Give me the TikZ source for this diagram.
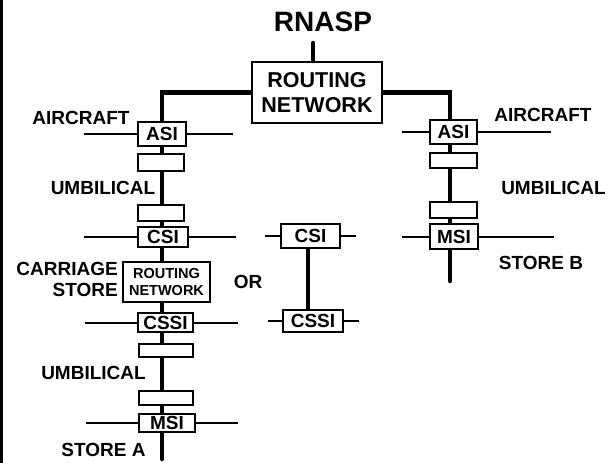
\documentclass[tikz,border=0pt]{standalone}
\usepackage{fontspec}
\setmainfont{Liberation Sans}
\usepackage{tikz}
\usetikzlibrary{calc}

\tikzset{
  bus/.style={line width=4.5pt},
  wire/.style={line width=2pt},
  unit/.style={draw, line width=2pt, fill=white, inner sep=0pt,
    font=\fontsize{19}{21}\selectfont\bfseries},
  tag/.style={inner sep=0pt, font=\fontsize{19}{21}\selectfont\bfseries}
}

\begin{document}
\begin{tikzpicture}[x=1pt,y=-1pt]
    \useasboundingbox (0,0) rectangle (614,463);
    \draw [line width=3pt] (1.5,0) -- (1.5,463);% Frame on the left edge

    \coordinate (StubTop) at (313,43);
    \coordinate (TrunkA)  at (162,459);% Store A side
    \coordinate (TrunkB)  at (450,281);% Store B side
    \coordinate (TrunkM)  at (308,0);

    \node [tag, font=\fontsize{28}{30}\selectfont\bfseries] (title) at (323,22) {RNASP};
    \node [unit, minimum width=130pt, minimum height=61pt, align=center,
      font=\fontsize{21.5}{25}\selectfont\bfseries] (RN) at (317,92.5) {ROUTING\\NETWORK};

    % left column
    \node [unit, minimum width=48pt, minimum height=24pt] (asiL)  at (162,134)   {ASI};
    \node [unit, minimum width=46pt, minimum height=17pt] (umbA)  at (161,162.5) {};
    \node [unit, minimum width=46pt, minimum height=16pt] (umbB)  at (161,213)   {};
    \node [unit, minimum width=50pt, minimum height=20pt] (csiL)  at (163,237)   {CSI};
    \node [unit, minimum width=87pt, minimum height=40pt, align=center,
      font=\fontsize{14.5}{17}\selectfont\bfseries] (rnC) at (166.5,282) {ROUTING\\NETWORK};
    \node [unit, minimum width=55pt, minimum height=19pt] (cssiL) at (165.5,322.5) {CSSI};
    \node [unit, minimum width=54pt, minimum height=13pt] (umbE)  at (166,350.5) {};
    \node [unit, minimum width=54pt, minimum height=14pt] (umbF)  at (166,398)   {};
    \node [unit, minimum width=56pt, minimum height=18pt] (msiL)  at (167,423)   {MSI};

    % middle column
    \node [unit, minimum width=59pt, minimum height=24pt] (csiM)  at (310.5,236) {CSI};
    \node [unit, minimum width=60pt, minimum height=22pt] (cssiM) at (313,321)   {CSSI};

    % right column
    \node [unit, minimum width=47pt, minimum height=24pt] (asiR)  at (453.5,132)   {ASI};
    \node [unit, minimum width=47pt, minimum height=15pt] (umbC)  at (453.5,160.5) {};
    \node [unit, minimum width=47pt, minimum height=16pt] (umbD)  at (453.5,210)   {};
    \node [unit, minimum width=48pt, minimum height=25pt] (msiR)  at (454,236.5)   {MSI};

    \node [tag] (airA)  at (81,118)    {AIRCRAFT};
    \node [tag] (umbTA) at (103,188)   {UMBILICAL};
    \node [tag, anchor=east, align=right, font=\fontsize{19}{21}\selectfont\bfseries]
      (carr) at (118,279) {CARRIAGE\\STORE};
    \node [tag] (or)    at (248,282)   {OR};
    \node [tag] (umbTB) at (93.5,373)  {UMBILICAL};
    \node [tag] (stA)   at (103.5,450) {STORE A};
    \node [tag] (airB)  at (543,115)   {AIRCRAFT};
    \node [tag] (umbTC) at (553.5,188) {UMBILICAL};
    \node [tag] (stB)   at (541,263)   {STORE B};

    % thick buses
    \draw [bus, line cap=round] (StubTop) -- (StubTop |- RN.north);
    \draw [bus] (RN.west) -| (asiL.north -| TrunkA);
    \draw [bus] (RN.east) -| (asiR.north -| TrunkB);
    \foreach \a/\b in {asiL/umbA, umbA/umbB, umbB/csiL, csiL/rnC, rnC/cssiL, cssiL/umbE, umbE/umbF, umbF/msiL}
      \draw [bus] (\a.south -| TrunkA) -- (\b.north -| TrunkA);
    \draw [bus, line cap=round] (msiL.south -| TrunkA) -- (TrunkA);
    \foreach \a/\b in {asiR/umbC, umbC/umbD, umbD/msiR}
      \draw [bus] (\a.south -| TrunkB) -- (\b.north -| TrunkB);
    \draw [bus, line cap=round] (msiR.south -| TrunkB) -- (TrunkB);
    \draw [bus] (csiM.south -| TrunkM) -- (cssiM.north -| TrunkM);

    % thin side wires
    \foreach \n/\l/\r in {asiL/53/46, csiL/53/47, cssiL/52/44, msiL/52/42,
                          csiM/15/15, cssiM/14/15, asiR/27/73, msiR/27/75}{
      \draw [wire] (\n.west) -- ++(-\l,0);
      \draw [wire] (\n.east) -- ++(\r,0);
    }
\end{tikzpicture}
\end{document}
